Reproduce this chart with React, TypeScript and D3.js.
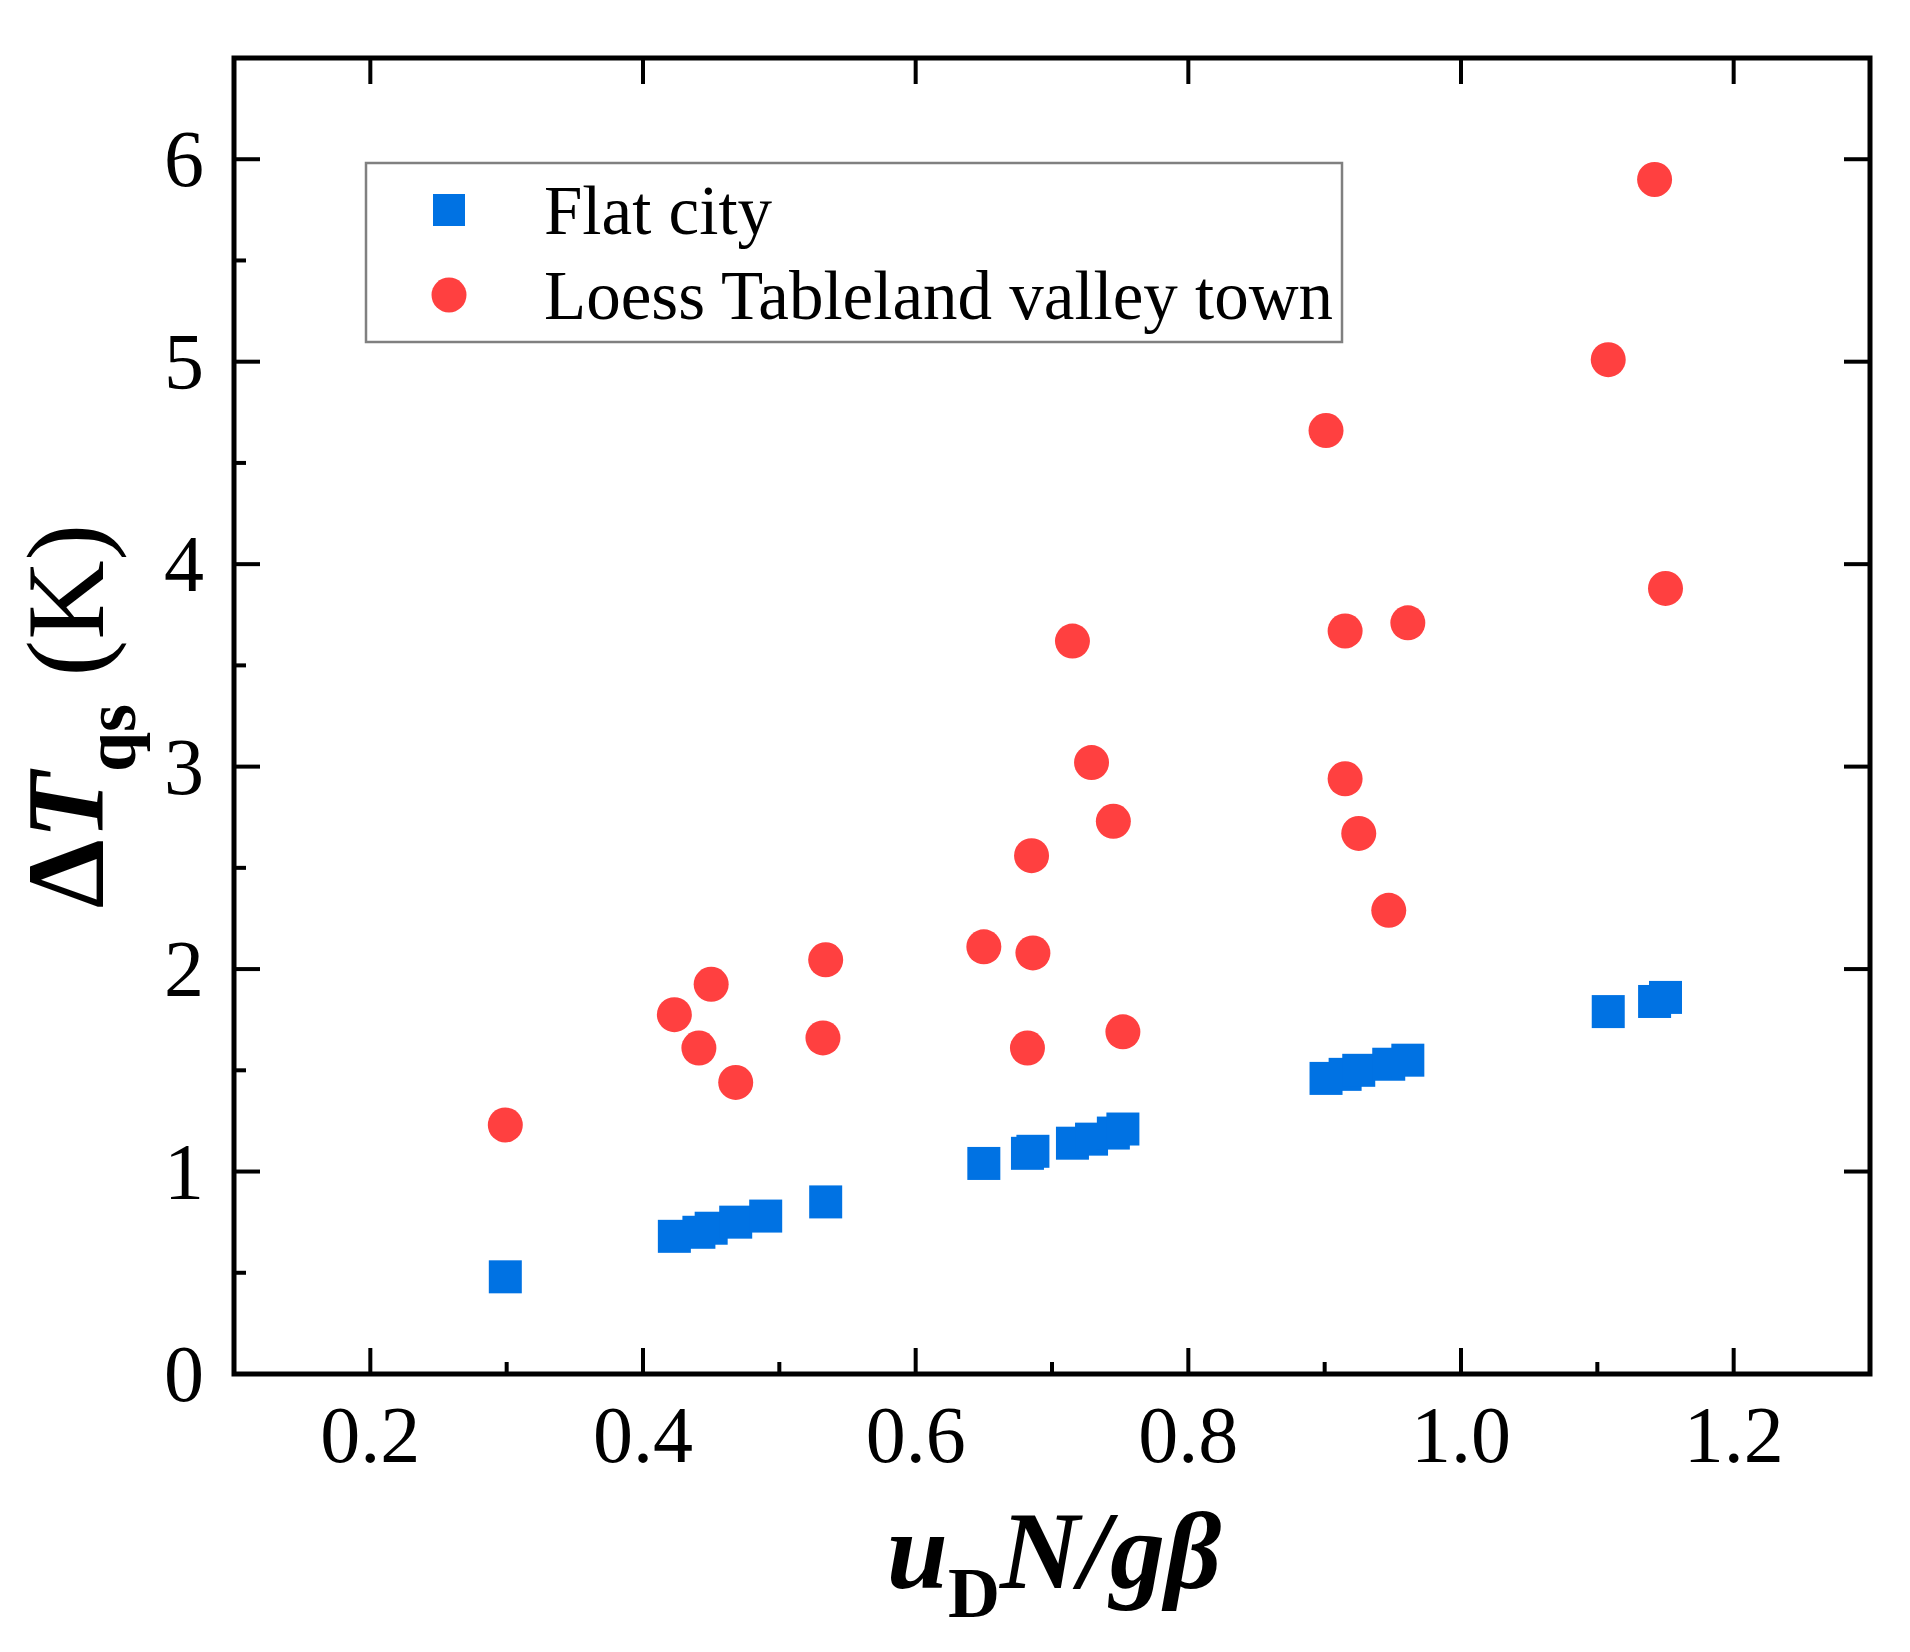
import React, { useEffect, useRef } from 'react';
import * as d3 from 'd3';

// Flat city (blue squares)
const flatX = [0.299, 0.423, 0.441, 0.450, 0.468, 0.490, 0.534, 0.650, 0.682, 0.686, 0.715, 0.729, 0.745, 0.752, 0.901, 0.915, 0.925, 0.947, 0.961, 1.108, 1.142, 1.150];
const flatY = [0.48, 0.68, 0.70, 0.72, 0.75, 0.78, 0.85, 1.04, 1.09, 1.10, 1.14, 1.16, 1.19, 1.21, 1.46, 1.48, 1.50, 1.53, 1.55, 1.79, 1.84, 1.86];

// Loess Tableland valley town (red circles)
const loessX = [0.299, 0.423, 0.441, 0.450, 0.468, 0.532, 0.534, 0.650, 0.682, 0.686, 0.685, 0.715, 0.729, 0.745, 0.752, 0.901, 0.915, 0.915, 0.925, 0.947, 0.961, 1.108, 1.142, 1.150];
const loessY = [1.23, 1.775, 1.61, 1.925, 1.44, 1.66, 2.046, 2.11, 1.61, 2.08, 2.56, 3.62, 3.02, 2.73, 1.69, 4.66, 3.67, 2.94, 2.67, 2.29, 3.71, 5.01, 5.90, 3.88];

const xTicks = [0.2, 0.4, 0.6, 0.8, 1.0, 1.2];
const xMinor = [0.1, 0.3, 0.5, 0.7, 0.9, 1.1, 1.3];
const yTicks = [0, 1, 2, 3, 4, 5, 6];
const yMinor = [0.5, 1.5, 2.5, 3.5, 4.5, 5.5, 6.5];

const legendNames = ['Flat city', 'Loess Tableland valley town'];

const BLUE = '#0072e3';
const RED = '#ff4040';
const FONT = '"Liberation Serif", "Times New Roman", serif';

const App: React.FC = () => {
  const svgRef = useRef<SVGSVGElement>(null);

  useEffect(() => {
    if (!svgRef.current) return;
    const svg = d3.select(svgRef.current);
    svg.selectAll('*').remove();

    const left = 234, right = 1870, top = 58, bottom = 1374;

    const x = d3.scaleLinear().domain([0.1, 1.3]).range([left, right]);
    const y = d3.scaleLinear().domain([0, 6.5]).range([bottom, top]);

    // ticks point inward; minors only on bottom and left
    const g = svg.append('g').attr('stroke', '#000').attr('stroke-width', 4);
    xTicks.forEach(t => {
      g.append('line').attr('x1', x(t)).attr('x2', x(t)).attr('y1', bottom).attr('y2', bottom - 26);
      g.append('line').attr('x1', x(t)).attr('x2', x(t)).attr('y1', top).attr('y2', top + 26);
    });
    xMinor.forEach(t => {
      g.append('line').attr('x1', x(t)).attr('x2', x(t)).attr('y1', bottom).attr('y2', bottom - 12);
    });
    yTicks.forEach(t => {
      g.append('line').attr('x1', left).attr('x2', left + 26).attr('y1', y(t)).attr('y2', y(t));
      g.append('line').attr('x1', right).attr('x2', right - 26).attr('y1', y(t)).attr('y2', y(t));
    });
    yMinor.forEach(t => {
      g.append('line').attr('x1', left).attr('x2', left + 12).attr('y1', y(t)).attr('y2', y(t));
    });

    // frame
    svg.append('rect')
      .attr('x', left).attr('y', top)
      .attr('width', right - left).attr('height', bottom - top)
      .attr('fill', 'none').attr('stroke', '#000').attr('stroke-width', 5);

    // tick labels
    svg.append('g').selectAll('text').data(xTicks).join('text')
      .attr('x', d => x(d)).attr('y', 1462)
      .attr('text-anchor', 'middle')
      .attr('font-family', FONT).attr('font-size', 80)
      .text(d => d.toFixed(1));

    svg.append('g').selectAll('text').data(yTicks).join('text')
      .attr('x', 204).attr('y', d => y(d))
      .attr('dy', '0.34em')
      .attr('text-anchor', 'end')
      .attr('font-family', FONT).attr('font-size', 80)
      .text(d => String(d));

    // points
    const sq = 33;
    svg.append('g').selectAll('circle').data(d3.range(loessX.length)).join('circle')
      .attr('cx', i => x(loessX[i])).attr('cy', i => y(loessY[i]))
      .attr('r', 17.5).attr('fill', RED);

    svg.append('g').selectAll('rect').data(d3.range(flatX.length)).join('rect')
      .attr('x', i => x(flatX[i]) - sq / 2).attr('y', i => y(flatY[i]) - sq / 2)
      .attr('width', sq).attr('height', sq).attr('fill', BLUE);

    // legend
    const lg = svg.append('g');
    lg.append('rect')
      .attr('x', 366).attr('y', 163).attr('width', 976).attr('height', 179)
      .attr('fill', '#fff').attr('stroke', '#808080').attr('stroke-width', 2.5);
    lg.append('rect').attr('x', 449 - 16).attr('y', 210 - 16).attr('width', 32).attr('height', 32).attr('fill', BLUE);
    lg.append('circle').attr('cx', 449).attr('cy', 295).attr('r', 17.5).attr('fill', RED);
    legendNames.forEach((name, i) => {
      lg.append('text')
        .attr('x', 544).attr('y', 234 + i * 85)
        .attr('font-family', FONT).attr('font-size', 69)
        .text(name);
    });

    // x title
    const xt = svg.append('text')
      .attr('x', 1054).attr('y', 1588)
      .attr('text-anchor', 'middle')
      .attr('font-family', FONT).attr('font-size', 110).attr('font-weight', 'bold');
    xt.append('tspan').attr('font-style', 'italic').text('u');
    xt.append('tspan').attr('font-size', 72).attr('dy', 29).text('D');
    xt.append('tspan').attr('font-style', 'italic').attr('dy', -29).text('N/gβ');

    // y title
    const yt = svg.append('text')
      .attr('transform', `translate(103,${(top + bottom) / 2}) rotate(-90)`)
      .attr('text-anchor', 'middle')
      .attr('font-family', FONT).attr('font-size', 110);
    yt.append('tspan').attr('font-weight', 'bold').text('Δ');
    yt.append('tspan').attr('font-weight', 'bold').attr('font-style', 'italic').text('T');
    yt.append('tspan').attr('font-weight', 'bold').attr('font-size', 72).attr('dy', 32).text('qs');
    yt.append('tspan').attr('dy', -32).text(' (K)');
  }, []);

  return (
    <div style={{ position: 'absolute', left: 0, top: 0, background: '#fff' }}>
      <svg ref={svgRef} width={1910} height={1652} viewBox="0 0 1910 1652" style={{ display: 'block' }} />
    </div>
  );
};

export default App;
